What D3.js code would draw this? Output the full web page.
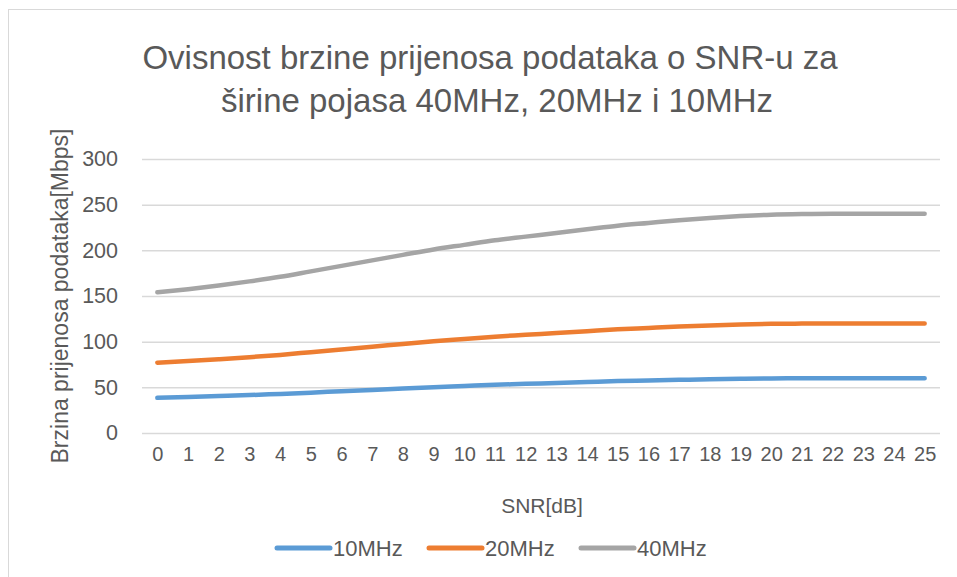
<!DOCTYPE html>
<html>
<head>
<meta charset="utf-8">
<script src="https://cdn.jsdelivr.net/npm/d3@7"></script>
<style>
  body { margin: 0; background: #fff; }
  text { font-family: "Liberation Sans", Arial, sans-serif; fill: #595959; }
</style>
</head>
<body>
<div id="chart"></div>
<script>
const FRAME_WIDTH = 957;
const FRAME_HEIGHT = 577;
const MARGINS = {left: 142, right: 17, top: 159, bottom: 144};

// data
const snr = d3.range(0, 26);
const mhz10 = [38.5, 39.4, 40.4, 41.5, 42.8, 44.2, 45.8, 47.2, 48.8, 50.2, 51.5, 52.8, 53.8,
               54.8, 55.8, 56.8, 57.5, 58.2, 58.9, 59.4, 59.8, 59.9, 60, 60, 60, 60];
const mhz20 = [77, 78.8, 80.8, 83, 85.5, 88.5, 91.5, 94.5, 97.5, 100.5, 103, 105.5, 107.5,
               109.5, 111.5, 113.5, 115, 116.5, 117.8, 118.8, 119.5, 119.8, 120, 120, 120, 120];
const mhz40 = [154, 157.5, 161.5, 166, 171, 177, 183, 189, 195, 201, 206, 211, 215,
               219, 223, 227, 230, 233, 235.5, 237.5, 239, 239.7, 240, 240, 240, 240];
const yTicks = [0, 50, 100, 150, 200, 250, 300];
const seriesNames = ["10MHz", "20MHz", "40MHz"];
const colors = ["#5B9BD5", "#ED7D31", "#A5A5A5"];
const series = [mhz10, mhz20, mhz40];

const svg = d3.select("#chart")
    .append("svg")
    .attr("width", FRAME_WIDTH)
    .attr("height", FRAME_HEIGHT);

// chart border
svg.append("rect")
    .attr("x", 8.5).attr("y", 9.5)
    .attr("width", 1000).attr("height", 1000)
    .attr("fill", "none")
    .attr("stroke", "#D9D9D9")
    .attr("stroke-width", 1);

const X_SCALE = d3.scalePoint()
    .domain(snr)
    .range([MARGINS.left, FRAME_WIDTH - MARGINS.right])
    .padding(0.5);

const Y_SCALE = d3.scaleLinear()
    .domain([0, 300])
    .range([FRAME_HEIGHT - MARGINS.bottom, MARGINS.top]);

// gridlines + y labels
const yAxis = svg.append("g")
    .attr("transform", `translate(${MARGINS.left},0)`)
    .call(d3.axisLeft(Y_SCALE)
        .tickValues(yTicks)
        .tickSize(-(FRAME_WIDTH - MARGINS.left - MARGINS.right))
        .tickPadding(24));
yAxis.select(".domain").remove();
yAxis.selectAll("line").attr("stroke", "#D9D9D9").attr("stroke-width", 1.5);
yAxis.selectAll("text")
    .attr("font-size", 21.5)
    .attr("font-family", "Liberation Sans, Arial, sans-serif")
    .attr("fill", "#595959");

// x labels
const xAxis = svg.append("g")
    .attr("transform", `translate(0,${FRAME_HEIGHT - MARGINS.bottom})`)
    .call(d3.axisBottom(X_SCALE).tickSize(0).tickPadding(14));
xAxis.select(".domain").remove();
xAxis.selectAll("text")
    .attr("font-size", 20)
    .attr("font-family", "Liberation Sans, Arial, sans-serif")
    .attr("fill", "#595959");

// lines
const line = d3.line()
    .x((d, i) => X_SCALE(snr[i]))
    .y(d => Y_SCALE(d))
    .curve(d3.curveMonotoneX);

svg.selectAll(".series")
    .data(series)
    .enter()
    .append("path")
    .attr("class", "series")
    .attr("d", d => line(d))
    .attr("fill", "none")
    .attr("stroke", (d, i) => colors[i])
    .attr("stroke-width", 4.5)
    .attr("stroke-linecap", "round")
    .attr("stroke-linejoin", "round");

// title
const title = svg.append("text")
    .attr("text-anchor", "middle")
    .attr("font-size", 33);
title.append("tspan").attr("x", 490).attr("y", 69)
    .text("Ovisnost brzine prijenosa podataka o SNR-u za");
title.append("tspan").attr("x", 497).attr("y", 112)
    .text("širine pojasa 40MHz, 20MHz i 10MHz");

// axis titles
svg.append("text")
    .attr("text-anchor", "middle")
    .attr("font-size", 23)
    .attr("transform", "translate(68,296) rotate(-90)")
    .text("Brzina prijenosa podataka[Mbps]");

svg.append("text")
    .attr("x", 542).attr("y", 513)
    .attr("text-anchor", "middle")
    .attr("font-size", 21)
    .text("SNR[dB]");

// legend
const legend = svg.selectAll(".legend")
    .data(seriesNames)
    .enter()
    .append("g")
    .attr("class", "legend")
    .attr("transform", (d, i) => `translate(${277 + i * 152},548)`);
legend.append("line")
    .attr("x1", 0).attr("x2", 53)
    .attr("y1", 0).attr("y2", 0)
    .attr("stroke", (d, i) => colors[i])
    .attr("stroke-width", 5)
    .attr("stroke-linecap", "round");
legend.append("text")
    .attr("x", 56).attr("y", 8)
    .attr("font-size", 22)
    .text(d => d);
</script>
</body>
</html>
